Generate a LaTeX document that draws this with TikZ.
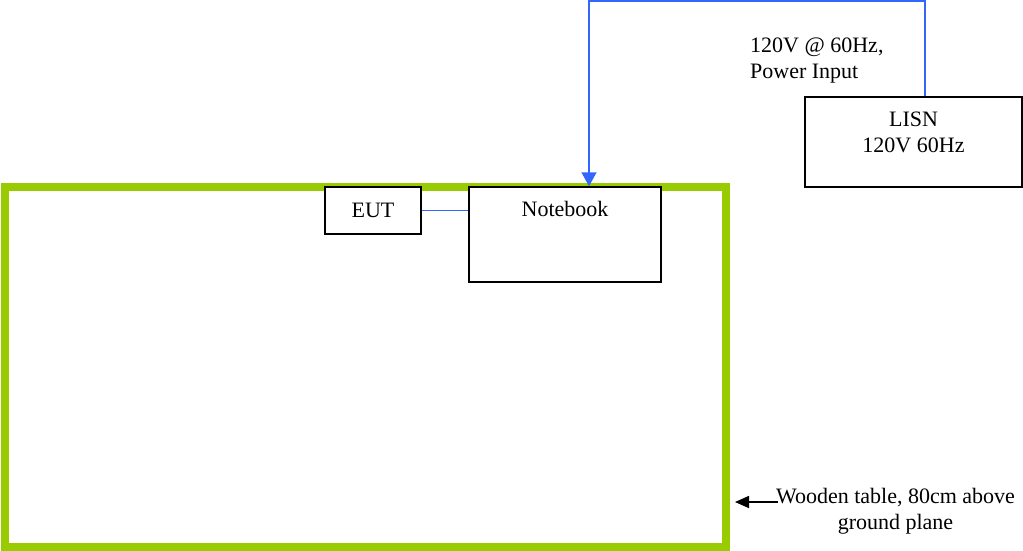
\documentclass[tikz,border=0pt]{standalone}
\usepackage{fontspec}
\setmainfont{Liberation Serif}
\usepackage{tikz}
\usetikzlibrary{arrows.meta, positioning}

\definecolor{deskgreen}{HTML}{99CC00}
\definecolor{wireblue}{HTML}{3366FF}

\begin{document}
\begin{tikzpicture}[x=1pt, y=-1pt,
  every node/.style={font=\fontsize{22}{26}\selectfont},
  desk/.style={rectangle, draw=deskgreen, line width=8pt,
               minimum width=721.5pt, minimum height=360pt, inner sep=0pt},
  device/.style={rectangle, draw, fill=white, line width=1.5pt, inner sep=0pt},
  note/.style={inner sep=0pt, align=left},
  power/.style={draw=wireblue, line width=1.5pt},
  feed/.style={power, -{Triangle[length=14pt, width=15pt]}},
  pointer/.style={line width=1.5pt, -{Triangle[length=14pt, width=12pt]}}
]
\useasboundingbox (0,0) rectangle (1023,551);

\node[desk] (desk) at (365.25,366.5) {};
\node[device, minimum width=96pt, minimum height=47pt] (eut) at (373,210.5) {EUT};
\node[device, minimum width=192pt, minimum height=95pt] (nb) at (565,234.5) {};
\node[inner sep=0pt] (nbtext) at ([yshift=-23pt]nb.north) {Notebook};
\node[device, minimum width=217pt, minimum height=90pt] (lisn) at (913.5,142) {};
\node[note, align=center] (lisntext) at ([yshift=-36pt]lisn.north) {LISN\\120V 60Hz};
\node[note, anchor=north west] (mains) at (750,38) {120V @ 60Hz,\\Power Input};
\node[note, align=center, anchor=north] (wood) at (895.5,488) {Wooden table, 80cm above\\ground plane};
\coordinate (bend) at (589,1);
\coordinate (woodtip) at (735,502);

\draw[power] (eut.east) -- (eut.east -| nb.west);
\draw[feed] ([xshift=11.5pt]lisn.north) |- (bend) -- (bend |- nb.north);
\draw[pointer] (wood.north west) ++(2,14) -- (woodtip);
\end{tikzpicture}
\end{document}
